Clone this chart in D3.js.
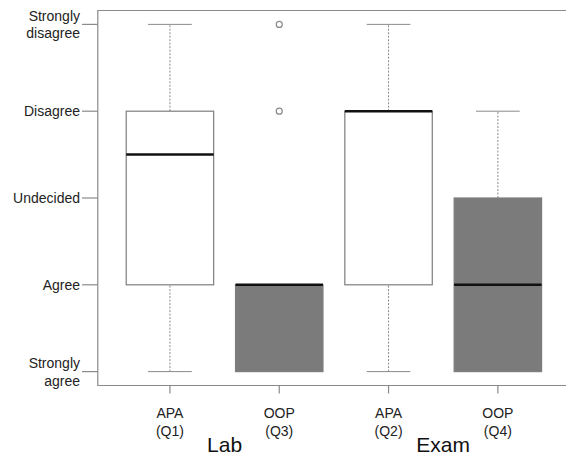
<!DOCTYPE html>
<html>
<head>
<meta charset="utf-8">
<script src="https://cdn.jsdelivr.net/npm/d3@7"></script>
<style>
  body { margin: 0; background: #fff; }
  svg { display: block; }
</style>
</head>
<body>
<svg id="chart" width="566" height="455"></svg>
<script>
// likert levels, 1 = strongly agree ... 5 = strongly disagree
const levels = [['Strongly', 'agree'], ['Agree'], ['Undecided'], ['Disagree'], ['Strongly', 'disagree']];
const questions = [['APA', '(Q1)'], ['OOP', '(Q3)'], ['APA', '(Q2)'], ['OOP', '(Q4)']];
const groups = ['Lab', 'Exam'];

// five number summaries
const whiskerLow = [1, 1, 1, 1];
const q1 = [2, 1, 2, 1];
const median = [3.5, 2, 4, 2];
const q3 = [4, 2, 4, 3];
const whiskerHigh = [5, 2, 5, 4];
const fills = ['#ffffff', '#7b7b7b', '#ffffff', '#7b7b7b'];
const outliers = [[], [4, 5], [], []];

const svg = d3.select('#chart');

const x = d3.scaleLinear().domain([0.34, 4.66]).range([97.8, 570]);
const y = d3.scaleLinear().domain([0.84, 5.16]).range([385.5, 10.5]);

const boxW = 0.8;
const capW = 0.4;
const frameCol = '#8a8a8a';
const tickFont = '14px "Liberation Sans", Arial, sans-serif';

// frame (only left, top, bottom visible in the crop)
svg.append('path')
    .attr('d', `M${x(4.66)},${y(5.16)}H${x(0.34)}V${y(0.84)}H${x(4.66)}`)
    .attr('fill', 'none')
    .attr('stroke', frameCol)
    .attr('stroke-width', 1.2);

const g = svg.append('g');

questions.forEach((q, i) => {
    const cx = x(i + 1);
    const half = (x(1 + boxW / 2) - x(1));
    const cap = (x(1 + capW / 2) - x(1));

    // whiskers
    [[q3[i], whiskerHigh[i]], [whiskerLow[i], q1[i]]].forEach(([a, b]) => {
        if (a === b) return;
        g.append('line')
            .attr('x1', cx).attr('x2', cx)
            .attr('y1', y(a)).attr('y2', y(b))
            .attr('stroke', '#8a8a8a')
            .attr('stroke-dasharray', '2,1.5');
    });
    [whiskerLow[i], whiskerHigh[i]].forEach(v => {
        if (v === q1[i] || v === q3[i]) return;
        g.append('line')
            .attr('x1', cx - cap).attr('x2', cx + cap)
            .attr('y1', y(v)).attr('y2', y(v))
            .attr('stroke', '#8a8a8a');
    });

    g.append('rect')
        .attr('x', cx - half)
        .attr('y', y(q3[i]))
        .attr('width', half * 2)
        .attr('height', y(q1[i]) - y(q3[i]))
        .attr('fill', fills[i])
        .attr('stroke', '#7d7d7d')
        .attr('stroke-width', 1.2);

    g.append('line')
        .attr('x1', cx - half).attr('x2', cx + half)
        .attr('y1', y(median[i])).attr('y2', y(median[i]))
        .attr('stroke', '#111')
        .attr('stroke-width', 2.5);

    outliers[i].forEach(v => {
        g.append('circle')
            .attr('cx', cx).attr('cy', y(v))
            .attr('r', 3)
            .attr('fill', 'none')
            .attr('stroke', '#8a8a8a')
            .attr('stroke-width', 1.2);
    });
});

// y axis
const yTicks = svg.append('g').style('font', tickFont);
levels.forEach((lab, i) => {
    const ty = y(i + 1);
    yTicks.append('line')
        .attr('x1', 82).attr('x2', x(0.34))
        .attr('y1', ty).attr('y2', ty)
        .attr('stroke', frameCol)
        .attr('stroke-width', 1.2);
    const t = yTicks.append('text')
        .attr('x', 80)
        .attr('y', ty)
        .attr('text-anchor', 'end')
        .attr('fill', '#222');
    lab.forEach((line, j) => {
        t.append('tspan')
            .attr('x', 80)
            .attr('dy', j === 0 ? (lab.length === 1 ? '0.35em' : '-0.25em') : '1.25em')
            .text(line);
    });
});

// x axis
const xTicks = svg.append('g').style('font', tickFont);
questions.forEach((q, i) => {
    const tx = x(i + 1);
    xTicks.append('line')
        .attr('x1', tx).attr('x2', tx)
        .attr('y1', y(0.84)).attr('y2', y(0.84) + 8)
        .attr('stroke', frameCol)
        .attr('stroke-width', 1.2);
    xTicks.append('text')
        .attr('x', tx).attr('y', 418)
        .attr('text-anchor', 'middle')
        .attr('fill', '#222')
        .text(q[0]);
    xTicks.append('text')
        .attr('x', tx).attr('y', 436)
        .attr('text-anchor', 'middle')
        .attr('fill', '#222')
        .text(q[1]);
});

// group labels between each pair
groups.forEach((name, i) => {
    svg.append('text')
        .attr('x', x(2 * i + 1.5))
        .attr('y', 452)
        .attr('text-anchor', 'middle')
        .style('font', '21px "Liberation Sans", Arial, sans-serif')
        .attr('fill', '#111')
        .text(name);
});
</script>
</body>
</html>
